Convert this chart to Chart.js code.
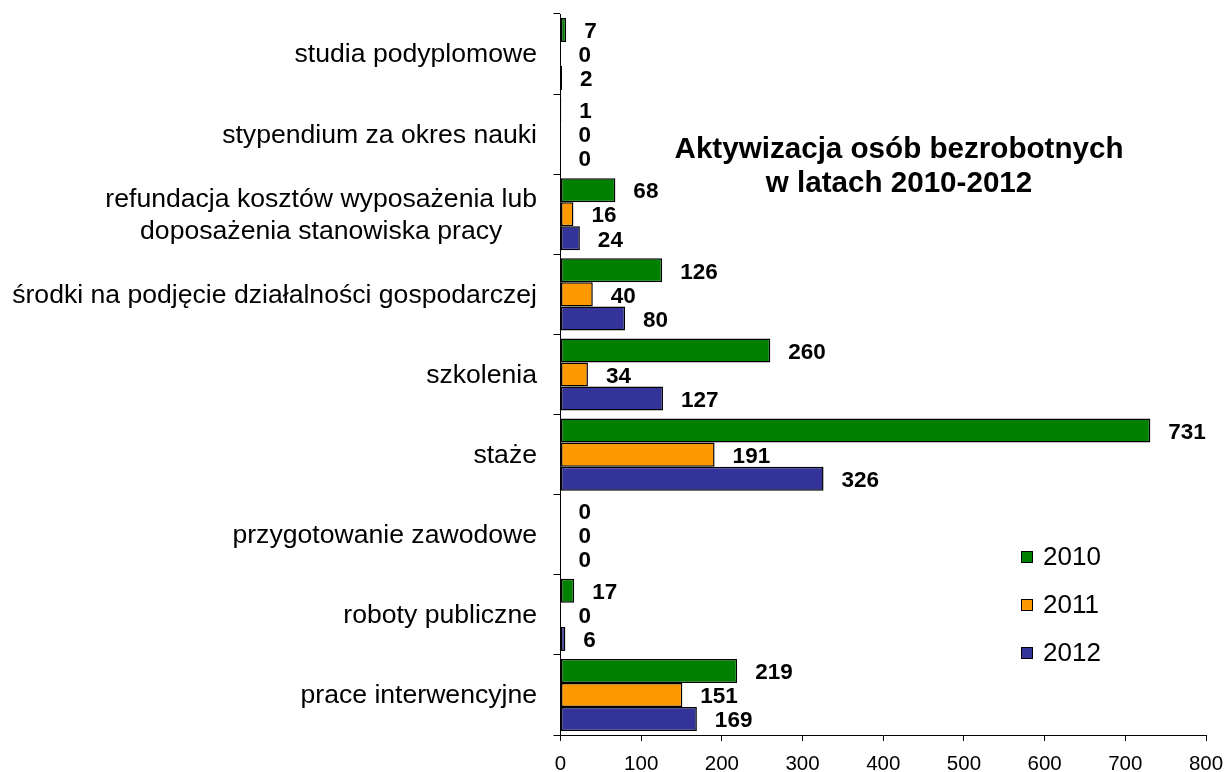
<!DOCTYPE html>
<html>
<head>
<meta charset="utf-8">
<script src="https://cdn.jsdelivr.net/npm/chart.js@4/dist/chart.umd.min.js"></script>
<style>
html,body{margin:0;padding:0;background:#fff;}
canvas{display:block;}
</style>
</head>
<body>
<canvas id="c" width="1230" height="772"></canvas>
<script>
const categories = [
  'studia podyplomowe',
  'stypendium za okres nauki',
  ['refundacja kosztów wyposażenia lub', 'doposażenia stanowiska pracy'],
  'środki na podjęcie działalności gospodarczej',
  'szkolenia',
  'staże',
  'przygotowanie zawodowe',
  'roboty publiczne',
  'prace interwencyjne'
];
const seriesNames = ['2010', '2011', '2012'];
const v2010 = [7, 1, 68, 126, 260, 731, 0, 17, 219];
const v2011 = [0, 0, 16, 40, 34, 191, 0, 0, 151];
const v2012 = [2, 0, 24, 80, 127, 326, 0, 6, 169];
const titleLines = ['Aktywizacja osób bezrobotnych', 'w latach 2010-2012'];
const xMin = 0, xMax = 800, xStep = 100;

const FONT = '"Liberation Sans", Arial, sans-serif';
Chart.defaults.font.family = FONT;
Chart.defaults.color = '#000';

const colors = ['#008000', '#FF9900', '#333399'];

const extras = {
  id: 'extras',
  afterDraw(chart) {
    const ctx = chart.ctx;
    const y = chart.scales.y;
    ctx.save();
    // category labels
    ctx.fillStyle = '#000';
    ctx.font = '26.6px ' + FONT;
    ctx.textBaseline = 'middle';
    const rightEdge = 537;
    categories.forEach((lab, i) => {
      const cy = y.getPixelForValue(i);
      const lines = Array.isArray(lab) ? lab : [lab];
      const widths = lines.map(l => ctx.measureText(l).width);
      const maxW = Math.max(...widths);
      const center = rightEdge - maxW / 2;
      const lh = 32;
      lines.forEach((l, k) => {
        const ly = cy + (k - (lines.length - 1) / 2) * lh;
        ctx.textAlign = 'center';
        ctx.fillText(l, center, ly + 1);
      });
    });
    // data labels
    ctx.font = 'bold 22.5px ' + FONT;
    ctx.textAlign = 'left';
    chart.data.datasets.forEach((ds, di) => {
      const meta = chart.getDatasetMeta(di);
      meta.data.forEach((el, i) => {
        ctx.fillText(String(ds.data[i]), el.x + 18, el.y + 2);
      });
    });
    // title
    ctx.font = 'bold 29.6px ' + FONT;
    ctx.textAlign = 'center';
    ctx.fillText(titleLines[0], 899, 150);
    ctx.fillText(titleLines[1], 899, 184);
    // legend
    ctx.font = '26px ' + FONT;
    ctx.textAlign = 'left';
    const legY = [557, 605, 653];
    chart.data.datasets.forEach((ds, di) => {
      const ly = legY[di];
      ctx.fillStyle = ds.backgroundColor;
      ctx.fillRect(1021, ly - 6, 12, 12);
      ctx.strokeStyle = '#000';
      ctx.lineWidth = 1;
      ctx.strokeRect(1021.5, ly - 5.5, 11, 11);
      ctx.fillStyle = '#000';
      ctx.fillText(ds.label, 1043, ly + 1);
    });
    ctx.restore();
  }
};

new Chart(document.getElementById('c'), {
  type: 'bar',
  data: {
    labels: categories,
    datasets: [
      { label: seriesNames[0], data: v2010, backgroundColor: colors[0] },
      { label: seriesNames[1], data: v2011, backgroundColor: colors[1] },
      { label: seriesNames[2], data: v2012, backgroundColor: colors[2] }
    ].map(d => Object.assign(d, {
      borderColor: '#000', borderWidth: 1.5, borderSkipped: false,
      categoryPercentage: 0.9, barPercentage: 1.0
    }))
  },
  options: {
    indexAxis: 'y',
    responsive: false,
    animation: false,
    devicePixelRatio: 1,
    layout: { padding: { left: 0, right: 24, top: 14, bottom: 0 } },
    plugins: { legend: { display: false }, tooltip: { enabled: false }, title: { display: false } },
    scales: {
      y: {
        ticks: { display: false },
        grid: { drawOnChartArea: false, drawTicks: true, tickLength: 7, color: '#000', offset: true },
        border: { color: '#000', width: 1 },
        afterFit(s) { s.width = 560.5; s.paddingTop = 0; s.paddingBottom = 0; }
      },
      x: {
        min: xMin, max: xMax,
        ticks: { stepSize: xStep, font: { size: 20.5 }, color: '#000', padding: 11 },
        grid: { drawOnChartArea: false, drawTicks: true, tickLength: 6, color: '#000' },
        border: { color: '#000', width: 1 },
        afterFit(s) { s.height = 37; s.paddingLeft = 0; s.paddingRight = 0; }
      }
    }
  },
  plugins: [extras]
});
</script>
</body>
</html>
